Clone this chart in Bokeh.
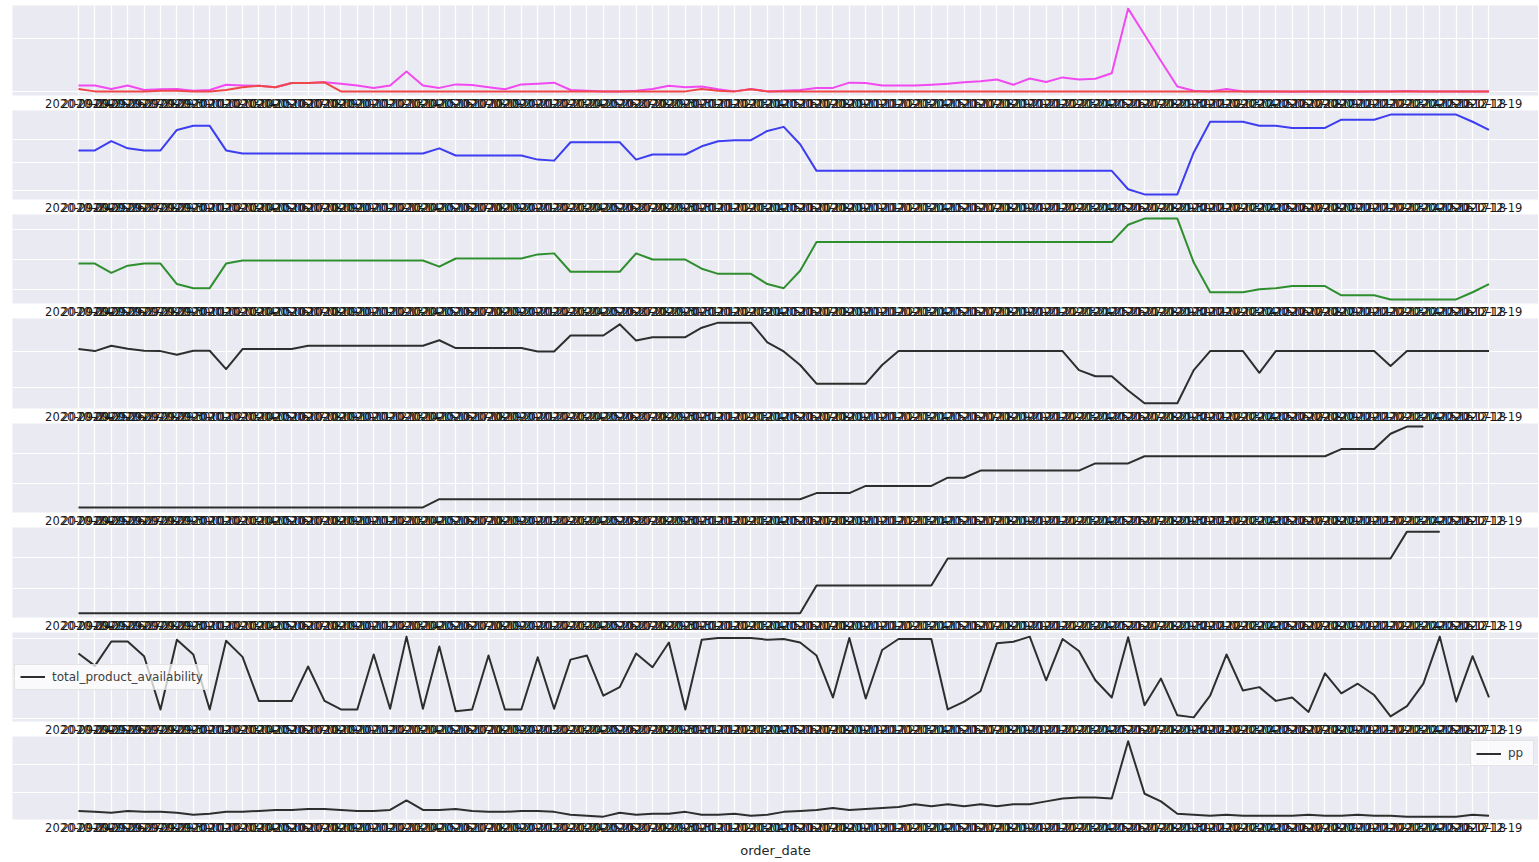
import pandas as pd
from bokeh.plotting import figure
from bokeh.layouts import column
from bokeh.models import Range1d, FixedTicker, ColumnDataSource
from bokeh.embed import file_html
from bokeh.resources import INLINE

# ---------------- data ----------------
dates = [d.strftime("%Y-%m-%d") for d in pd.date_range("2020-09-24", "2020-12-19")]

total_sales = [20, 20, 10, 20, 7, 9, 10, 5, 7, 22,
               20, 19, 15, 27, 27, 29, 25, 20, 13, 20,
               60, 20, 13, 23, 21, 15, 9, 23, 25, 28,
               7, 5, 3, 3, 5, 10, 19, 15, 17, 9,
               3, 10, 3, 5, 7, 13, 13, 28, 27, 20,
               20, 20, 22, 25, 29, 32, 37, 22, 40, 30,
               43, 37, 39, 55, 240, 165, 90, 17, 5, 3,
               10, 3, 3, 3, 2, 3, 3, 3, 2, 3,
               3, 4, 3, 3, 3, 3, 3]
total_cost = [10, 3, 3, 3, 3, 5, 5, 3, 3, 7,
              15, 19, 15, 27, 27, 29, 3, 3, 3, 3,
              3, 3, 3, 3, 3, 3, 3, 3, 3, 3,
              3, 3, 3, 3, 3, 3, 3, 3, 10, 5,
              3, 9, 3, 3, 3, 3, 3, 3, 3, 3,
              3, 3, 3, 3, 3, 3, 3, 3, 3, 3,
              3, 3, 3, 3, 3, 3, 3, 3, 3, 3,
              3, 3, 3, 3, 3, 3, 3, 3, 3, 3,
              3, 3, 3, 3, 3, 3, 3]
blue_series = [48, 48, 57, 50, 48, 48, 68, 72, 72, 48,
               45, 45, 45, 45, 45, 45, 45, 45, 45, 45,
               45, 45, 50, 43, 43, 43, 43, 43, 39, 38,
               56, 56, 56, 56, 39, 44, 44, 44, 52, 57,
               58, 58, 67, 71, 54, 28, 28, 28, 28, 28,
               28, 28, 28, 28, 28, 28, 28, 28, 28, 28,
               28, 28, 28, 28, 10, 5, 5, 5, 46, 76,
               76, 76, 72, 72, 70, 70, 70, 78, 78, 78,
               83, 83, 83, 83, 83, 76, 68]
green_series = [39, 39, 30, 37, 39, 39, 19, 15, 15, 39,
                42, 42, 42, 42, 42, 42, 42, 42, 42, 42,
                42, 42, 36, 44, 44, 44, 44, 44, 48, 49,
                31, 31, 31, 31, 49, 43, 43, 43, 34, 29,
                29, 29, 19, 15, 32, 60, 60, 60, 60, 60,
                60, 60, 60, 60, 60, 60, 60, 60, 60, 60,
                60, 60, 60, 60, 77, 83, 83, 83, 40, 11,
                11, 11, 14, 15, 17, 17, 17, 8, 8, 8,
                4, 4, 4, 4, 4, 11, 19]
dark_series = [172, 166, 182, 173, 167, 166, 155, 167, 167, 113,
               172, 172, 172, 172, 182, 182, 182, 182, 182, 182,
               182, 182, 198, 175, 175, 175, 175, 175, 165, 165,
               212, 212, 212, 245, 197, 207, 207, 207, 235, 250,
               250, 250, 192, 165, 125, 70, 70, 70, 70, 125,
               166, 166, 166, 166, 166, 166, 166, 166, 166, 166,
               166, 110, 92, 92, 50, 12, 12, 12, 110, 166,
               166, 166, 102, 166, 166, 166, 166, 166, 166, 166,
               122, 166, 166, 166, 166, 166, 166]
cumulative_a = [5, 5, 5, 5, 5, 5, 5, 5, 5, 5,
                5, 5, 5, 5, 5, 5, 5, 5, 5, 5,
                5, 5, 13, 13, 13, 13, 13, 13, 13, 13,
                13, 13, 13, 13, 13, 13, 13, 13, 13, 13,
                13, 13, 13, 13, 13, 19, 19, 19, 26, 26,
                26, 26, 26, 34, 34, 41, 41, 41, 41, 41,
                41, 41, 48, 48, 48, 55, 55, 55, 55, 55,
                55, 55, 55, 55, 55, 55, 55, 62, 62, 62,
                77, 84, 84]
cumulative_b = [4, 4, 4, 4, 4, 4, 4, 4, 4, 4,
                4, 4, 4, 4, 4, 4, 4, 4, 4, 4,
                4, 4, 4, 4, 4, 4, 4, 4, 4, 4,
                4, 4, 4, 4, 4, 4, 4, 4, 4, 4,
                4, 4, 4, 4, 4, 31, 31, 31, 31, 31,
                31, 31, 31, 57, 57, 57, 57, 57, 57, 57,
                57, 57, 57, 57, 57, 57, 57, 57, 57, 57,
                57, 57, 57, 57, 57, 57, 57, 57, 57, 57,
                57, 83, 83, 83]
total_product_availability = [198, 162, 233, 233, 190, 35, 238, 195, 35, 235,
                              188, 60, 60, 60, 160, 60, 35, 35, 195, 37,
                              247, 37, 218, 30, 35, 192, 35, 35, 187, 37,
                              180, 192, 75, 100, 198, 158, 230, 35, 238, 243,
                              243, 243, 238, 240, 230, 192, 70, 243, 67, 208,
                              240, 240, 240, 35, 58, 88, 228, 232, 247, 120,
                              240, 205, 120, 70, 245, 47, 125, 18, 12, 75,
                              195, 90, 100, 60, 70, 28, 140, 82, 110, 77,
                              15, 45, 110, 247, 58, 190, 70]
pp = [9, 8, 7, 9, 8, 8, 7, 5, 6, 8,
      8, 9, 10, 10, 11, 11, 10, 9, 9, 10,
      20, 10, 10, 11, 9, 8, 8, 9, 9, 8,
      5, 4, 3, 7, 5, 6, 6, 8, 5, 5,
      6, 4, 5, 8, 9, 10, 12, 10, 11, 12,
      13, 16, 14, 16, 14, 16, 14, 16, 16, 19,
      22, 23, 23, 22, 82, 27, 19, 6, 5, 4,
      5, 4, 4, 4, 4, 5, 4, 4, 5, 4,
      4, 3, 3, 3, 3, 5, 4]

xs = list(range(len(dates)))

# ---------------- layout ----------------
W = 1538
xr = Range1d(-4.024, 89.02)
BG = "#EAEAF2"
TXT = "#1a1a1a"
FONT = "DejaVu Sans"


def make_fig(h, yrange, yticks, top=0, last=False):
    p = figure(width=W, height=h, x_range=xr, y_range=Range1d(*yrange),
               output_backend="svg", toolbar_location=None,
               min_border_left=12, min_border_right=0, min_border_top=top,
               min_border_bottom=2,
               background_fill_color=BG, border_fill_color="white", outline_line_color=None)
    p.yaxis.visible = False
    p.ygrid.ticker = FixedTicker(ticks=yticks)
    p.ygrid.grid_line_color = "white"
    p.ygrid.grid_line_width = 1.2
    tk = FixedTicker(ticks=xs)
    p.xaxis.ticker = tk
    p.xgrid.ticker = tk
    p.xgrid.grid_line_color = "white"
    p.xgrid.grid_line_width = 1.2
    ax = p.xaxis[0]
    ax.major_label_overrides = {i: d for i, d in enumerate(dates)}
    ax.axis_line_color = None
    ax.major_tick_line_color = None
    ax.minor_tick_line_color = None
    ax.major_tick_out = 0
    ax.major_tick_in = 0
    ax.minor_tick_out = 0
    ax.major_label_standoff = 3
    ax.major_label_text_font = FONT
    ax.major_label_text_font_size = "11.5px"
    ax.major_label_text_color = TXT
    if last:
        ax.axis_label = "order_date"
        ax.axis_label_text_font = FONT
        ax.axis_label_text_font_size = "13px"
        ax.axis_label_text_font_style = "normal"
        ax.axis_label_text_color = "#262626"
        ax.axis_label_standoff = 8
    return p


def add_line(p, vals, color, label=None):
    src = ColumnDataSource(dict(x=xs[:len(vals)], y=vals))
    kw = dict(legend_label=label) if label else {}
    p.line("x", "y", source=src, line_color=color, line_width=2, line_join="round", **kw)


def style_legend(p, loc, margin):
    lg = p.legend[0]
    lg.location = loc
    lg.margin = margin
    lg.padding = 5
    lg.spacing = 0
    lg.glyph_width = 25
    lg.glyph_height = 13
    lg.label_height = 13
    lg.label_standoff = 7
    lg.label_text_font = FONT
    lg.label_text_font_size = "12px"
    lg.label_text_color = "#404040"
    lg.background_fill_color = "white"
    lg.background_fill_alpha = 0.75
    lg.border_line_color = "#cccccc"
    lg.border_line_width = 1


figs = []

p1 = make_fig(110, (-8.8, 248.9), [3, 155], top=5)
add_line(p1, total_sales, "#f04af0")
add_line(p1, total_cost, "#f04848")
figs.append(p1)

p2 = make_fig(104, (0, 87), [9, 36, 59])
add_line(p2, blue_series, "#3d3df2")
figs.append(p2)

p3 = make_fig(104, (0, 87), [14, 43, 72])
add_line(p3, green_series, "#2f8f2f")
figs.append(p3)

p4 = make_fig(105, (-3.3, 262.2), [58, 165])
add_line(p4, dark_series, "#2e2e2e")
figs.append(p4)

p5 = make_fig(104, (0, 87), [28, 58])
add_line(p5, cumulative_a, "#2e2e2e")
figs.append(p5)

p6 = make_fig(105, (0, 87), [28, 58])
add_line(p6, cumulative_b, "#2e2e2e")
figs.append(p6)

p7 = make_fig(104, (0, 259), [8, 125, 242])
add_line(p7, total_product_availability, "#2e2e2e", "total_product_availability")
style_legend(p7, "left", 2)
figs.append(p7)

p8 = make_fig(124, (0, 87), [28, 58], last=True)
add_line(p8, pp, "#2e2e2e", "pp")
style_legend(p8, "top_right", 4)
figs.append(p8)

layout = column(*figs, spacing=0)
open("out.html", "w").write(file_html(layout, INLINE))
